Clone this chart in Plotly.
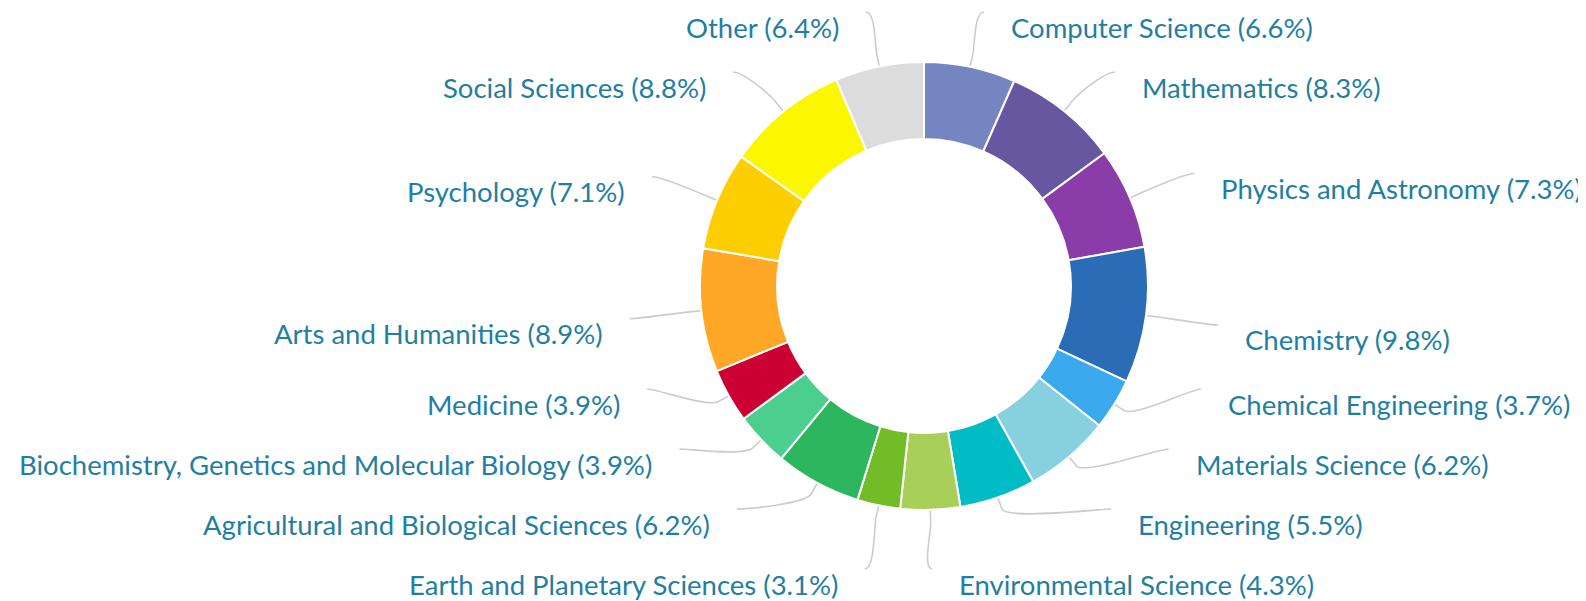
import math
import plotly.graph_objects as go

categories = [
    "Computer Science", "Mathematics", "Physics and Astronomy", "Chemistry",
    "Chemical Engineering", "Materials Science", "Engineering", "Environmental Science",
    "Earth and Planetary Sciences", "Agricultural and Biological Sciences",
    "Biochemistry, Genetics and Molecular Biology", "Medicine", "Arts and Humanities",
    "Psychology", "Social Sciences", "Other",
]
shares = [6.6, 8.3, 7.3, 9.8, 3.7, 6.2, 5.5, 4.3, 3.1, 6.2, 3.9, 3.9, 8.9, 7.1, 8.8, 6.4]
colors = [
    "#7585c2", "#6657a0", "#8a3da8", "#2a6cb5", "#3aa9ee", "#86d0e0", "#00bdc5", "#a8d058",
    "#72bc28", "#2cb65e", "#4ccf8e", "#cc0033", "#ffa726", "#ffce00", "#faf700", "#dcdcdc",
]

W, H = 1586, 601
OFF = 8  # page body margin: figure pixel 0 sits at page pixel 8
cx, cy = 924, 286          # page coordinates
R_out = 224
hole = 0.656
label_r = 288
nat_r = 292
top_lim, bot_lim, gap = 27, 584, 60
ell_a, ell_b, ell_cy = 296, 284, 289
text_col = "#1f7fa2"
line_col = "#cccccc"

total = sum(shares)
angles = []
acc = 0.0
for v in shares:
    mid = (acc + v / 2) / total * 2 * math.pi
    angles.append(mid)
    acc += v

items = []
for i, th in enumerate(angles):
    side = 1 if th < math.pi else -1
    yn = cy - label_r * math.cos(th) + 16
    items.append({"i": i, "th": th, "side": side, "y": yn, "edge": False})


def arrange(group):
    group.sort(key=lambda d: d["y"])
    for k, d in enumerate(group):
        lo = top_lim if k == 0 else group[k - 1]["y"] + gap
        if k == 0 and d["y"] < lo:
            d["edge"] = True
        d["y"] = max(d["y"], lo)
    for k in range(len(group) - 1, -1, -1):
        hi = bot_lim if k == len(group) - 1 else group[k + 1]["y"] - gap
        if k == len(group) - 1 and d["y"] >= hi:
            group[k]["edge"] = True
        group[k]["y"] = min(group[k]["y"], hi)


right = [d for d in items if d["side"] == 1]
left = [d for d in items if d["side"] == -1]
arrange(right)
arrange(left)
for grp in (right, left):
    if grp[-1]["y"] >= bot_lim - 0.5:
        grp[-1]["edge"] = True

shapes = []
annotations = []
for d in right + left:
    th, s = d["th"], d["side"]
    ly = d["y"]
    ey = ly - 15
    if d["edge"]:
        ex = cx + nat_r * math.sin(th)
    else:
        t = max(0.0, 1 - ((ey - ell_cy) / ell_b) ** 2)
        ex = cx + s * ell_a * math.sqrt(t)
    sx, sy = cx + R_out * math.sin(th), cy - R_out * math.cos(th)
    bx, by = cx + (R_out + 12) * math.sin(th), cy - (R_out + 12) * math.cos(th)
    c1x, c1y = ex - s * 10, ey
    c2x, c2y = 2 * bx - sx, 2 * by - sy
    path = (f"M {ex:.1f},{ey:.1f} C {c1x:.1f},{c1y:.1f} {c2x:.1f},{c2y:.1f} {bx:.1f},{by:.1f} "
            f"L {sx:.1f},{sy:.1f}")
    shapes.append(dict(type="path", path=path, xref="x", yref="y",
                       line=dict(color=line_col, width=1.6), layer="below"))
    i = d["i"]
    annotations.append(dict(
        x=ex + s * 25, y=ly, xref="x", yref="y", showarrow=False,
        xanchor="left" if s == 1 else "right", yanchor="middle",
        text=f"{categories[i]} ({shares[i]}%)",
        font=dict(family="Lato", size=27.5, color=text_col),
    ))

fx, fy = cx - OFF, cy - OFF  # centre in figure pixels
fig = go.Figure()
fig.add_trace(go.Scatter(x=[None], y=[None], mode="markers", hoverinfo="skip", showlegend=False))
fig.add_trace(go.Pie(
    labels=categories, values=shares, sort=False, direction="clockwise", rotation=0,
    hole=hole, textinfo="none", showlegend=False,
    marker=dict(colors=colors, line=dict(color="white", width=2)),
    domain=dict(x=[(fx - R_out) / W, (fx + R_out) / W],
                y=[(H - fy - R_out) / H, (H - fy + R_out) / H]),
))
fig.update_layout(
    width=W, height=H, margin=dict(l=0, r=0, t=0, b=0),
    paper_bgcolor="white", plot_bgcolor="rgba(0,0,0,0)",
    xaxis=dict(range=[OFF, W + OFF], visible=False, fixedrange=True),
    yaxis=dict(range=[H + OFF, OFF], visible=False, fixedrange=True),
    shapes=shapes, annotations=annotations, showlegend=False,
)
fig.write_html("out.html")
